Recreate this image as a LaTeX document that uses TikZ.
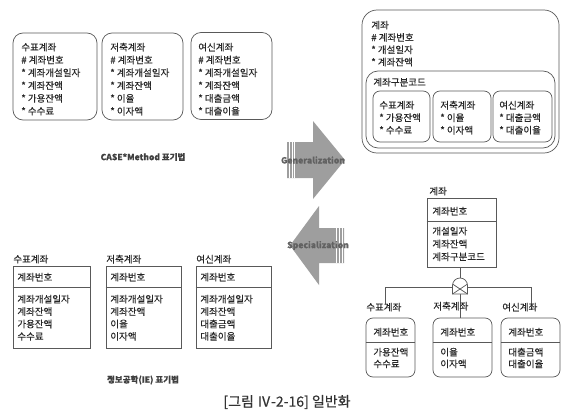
\documentclass[tikz,border=0pt]{standalone}
\usepackage{fontspec}
\setmainfont{Noto Sans CJK KR}[FakeBold=0.35]
\begin{document}
\begin{tikzpicture}[x=1pt,y=-1pt,
  line width=0.7pt,
  boxline/.style={draw=black!65},
  rbox/.style={boxline, rounded corners=10pt, inner sep=0pt},
  sbox/.style={boxline, rounded corners=7pt, inner sep=0pt},
  pbox/.style={boxline, inner sep=0pt},
  txt/.style={font=\fontsize{9.5}{12.8}\selectfont, text=black!85, inner sep=0pt, align=left, anchor=north west},
  txts/.style={txt, font=\fontsize{9.5}{12.4}\selectfont},
  lab/.style={font=\bfseries\fontsize{8.5}{10}\selectfont, text=black!75, inner sep=0pt},
  arrowfill/.style={fill=black!38, draw=none},
  arrtxt/.style={font=\bfseries\fontsize{8.6}{10}\selectfont, text=black!62, inner sep=0pt},
  stripe/.style={draw=white, line width=0.8pt},
  conn/.style={draw=black!65, line width=0.7pt}
]
\useasboundingbox (0,0) rectangle (568,420);

% ---------- CASE*Method (top left) ----------
\node[rbox, minimum width=84pt, minimum height=87pt] (c1) at (55,76.5) {};
\node[rbox, minimum width=81pt, minimum height=87pt] (c2) at (142.5,76.5) {};
\node[rbox, minimum width=81pt, minimum height=87pt] (c3) at (231.5,76) {};
\node[txt] (c1t) at (21,42.5) {수표계좌\\\# 계좌번호\\* 계좌개설일자\\* 계좌잔액\\* 가용잔액\\* 수수료};
\node[txt] (c2t) at (110,42.5) {저축계좌\\\# 계좌번호\\* 계좌개설일자\\* 계좌잔액\\* 이율\\* 이자액};
\node[txt] (c3t) at (198,42.5) {여신계좌\\\# 계좌번호\\* 계좌개설일자\\* 계좌잔액\\* 대출금액\\* 대출이율};
\node[lab] (caselab) at (143,157) {CASE*Method 표기법};

% ---------- CASE*Method generalized (top right) ----------
\node[rbox, rounded corners=15pt, minimum width=197pt, minimum height=143pt] (g0) at (460.5,81.5) {};
\node[txt, font=\fontsize{9.5}{12.3}\selectfont] (g0t) at (371,20.5) {계좌\\\# 계좌번호\\* 개설일자\\* 계좌잔액};
\node[rbox, rounded corners=12pt, minimum width=189pt, minimum height=77pt] (gk) at (460.5,109.5) {};
\node[txt] (gkt) at (373,77.5) {계좌구분코드};
\node[sbox, minimum width=57pt, minimum height=51pt] (ga) at (401.5,116.5) {};
\node[sbox, minimum width=58pt, minimum height=51pt] (gb) at (462,116.5) {};
\node[sbox, minimum width=59pt, minimum height=51pt] (gc) at (522.5,116.5) {};
\node[txt, font=\fontsize{9.5}{12.5}\selectfont] (gat) at (379,100.5) {수표계좌\\* 가용잔액\\* 수수료};
\node[txt, font=\fontsize{9.5}{12.5}\selectfont] (gbt) at (440,100.5) {저축계좌\\* 이율\\* 이자액};
\node[txt, font=\fontsize{9.5}{12.5}\selectfont] (gct) at (499,100.5) {여신계좌\\* 대출금액\\* 대출이율};

% ---------- big arrows ----------
\fill[arrowfill] (287,142) -- (313,142) -- (313,121) -- (345,160) -- (313,199) -- (313,178) -- (287,178) -- cycle;
\draw[stripe] (289.3,142) -- (289.3,178);
\draw[stripe] (292,142) -- (292,178);
\draw[stripe] (294.7,142) -- (294.7,178);
\node[arrtxt] (gen) at (313,160) {Generalization};

\fill[arrowfill] (344,228) -- (319,228) -- (319,206) -- (290,245.5) -- (319,285) -- (319,263) -- (344,263) -- cycle;
\draw[stripe] (336.8,228) -- (336.8,263);
\draw[stripe] (339.5,228) -- (339.5,263);
\draw[stripe] (342.2,228) -- (342.2,263);
\node[arrtxt] (spec) at (318,245.5) {Specialization};

% ---------- IE (bottom left) ----------
\node[pbox, minimum width=77pt, minimum height=82pt] (e1) at (51.5,307) {};
\node[pbox, minimum width=75pt, minimum height=82pt] (e2) at (143.5,307) {};
\node[pbox, minimum width=75pt, minimum height=82pt] (e3) at (233.5,307) {};
\draw[boxline] (e1.west |- 0,287) -- (e1.east |- 0,287);
\draw[boxline] (e2.west |- 0,287) -- (e2.east |- 0,287);
\draw[boxline] (e3.west |- 0,287) -- (e3.east |- 0,287);
\node[txt] (e1n) at (13,254.5) {수표계좌};
\node[txt] (e2n) at (106,254.5) {저축계좌};
\node[txt] (e3n) at (196,254.5) {여신계좌};
\node[txt] (e1k) at (17,272.5) {계좌번호};
\node[txt] (e2k) at (110,272.5) {계좌번호};
\node[txt] (e3k) at (200,272.5) {계좌번호};
\node[txts] (e1a) at (17,294.5) {계좌개설일자\\계좌잔액\\가용잔액\\수수료};
\node[txts] (e2a) at (110,294.5) {계좌개설일자\\계좌잔액\\이율\\이자액};
\node[txts] (e3a) at (200,294.5) {계좌개설일자\\계좌잔액\\대출금액\\대출이율};
\node[lab] (ielab) at (143,380) {정보공학(IE) 표기법};

% ---------- IE generalized (bottom right) ----------
\node[pbox, minimum width=69pt, minimum height=69pt] (p) at (461.5,232.5) {};
\draw[boxline] (p.west |- 0,221) -- (p.east |- 0,221);
\node[txt] (pn) at (429,186.5) {계좌};
\node[txt] (pk) at (432,206.5) {계좌번호};
\node[txt] (pa) at (432,226.5) {개설일자\\계좌잔액\\계좌구분코드};

\node[sbox, minimum width=49pt, minimum height=59pt] (k1) at (390.5,347.5) {};
\node[sbox, minimum width=59pt, minimum height=59pt] (k2) at (462.5,347.5) {};
\node[sbox, minimum width=59pt, minimum height=59pt] (k3) at (530.5,347.5) {};
\draw[boxline] (k1.west |- 0,342) -- (k1.east |- 0,342);
\draw[boxline] (k2.west |- 0,342) -- (k2.east |- 0,342);
\draw[boxline] (k3.west |- 0,342) -- (k3.east |- 0,342);

% connectors
\coordinate (symtop) at (460,278);
\coordinate (symbot) at (460,294);
\coordinate (hl) at (385,287);
\coordinate (hr) at (531,287);
\coordinate (k1top) at (385,304);
\coordinate (k3top) at (531,310);
\draw[conn] (p.south -| symtop) -- (symtop);
\draw[conn] (hl) -- (hr);
\draw[conn] (hl) -- (k1top);
\draw[conn] (hr) -- (k3top);
\draw[conn] (symbot) -- (k2.north -| symbot);
% exclusive subtype symbol
\filldraw[conn, fill=white] (452.5,294) -- (452.5,285.5) arc[start angle=180, end angle=360, radius=7.5] -- (467.5,294) -- cycle;
\draw[conn] (452.5,284) -- (467.5,294);
\draw[conn] (467.5,284) -- (452.5,294);

\node[txt] (k1n) at (366,302.5) {수표계좌};
\node[txt] (k2n) at (433,301.5) {저축계좌};
\node[txt] (k3n) at (502,302.5) {여신계좌};
\node[txt] (k1k) at (373,327.5) {계좌번호};
\node[txt] (k2k) at (440,327.5) {계좌번호};
\node[txt] (k3k) at (508,327.5) {계좌번호};
\node[txt, font=\fontsize{9.5}{11.7}\selectfont] (k1a) at (373,347.5) {가용잔액\\수수료};
\node[txt, font=\fontsize{9.5}{11.7}\selectfont] (k2a) at (440,347.5) {이율\\이자액};
\node[txt, font=\fontsize{9.5}{11.7}\selectfont] (k3a) at (508,347.5) {대출금액\\대출이율};

% ---------- caption ----------
\node[font=\fontsize{14}{16}\selectfont, text=black!80, inner sep=0pt] (cap) at (287,402) {[그림 Ⅳ-2-16] 일반화};
\end{tikzpicture}
\end{document}
